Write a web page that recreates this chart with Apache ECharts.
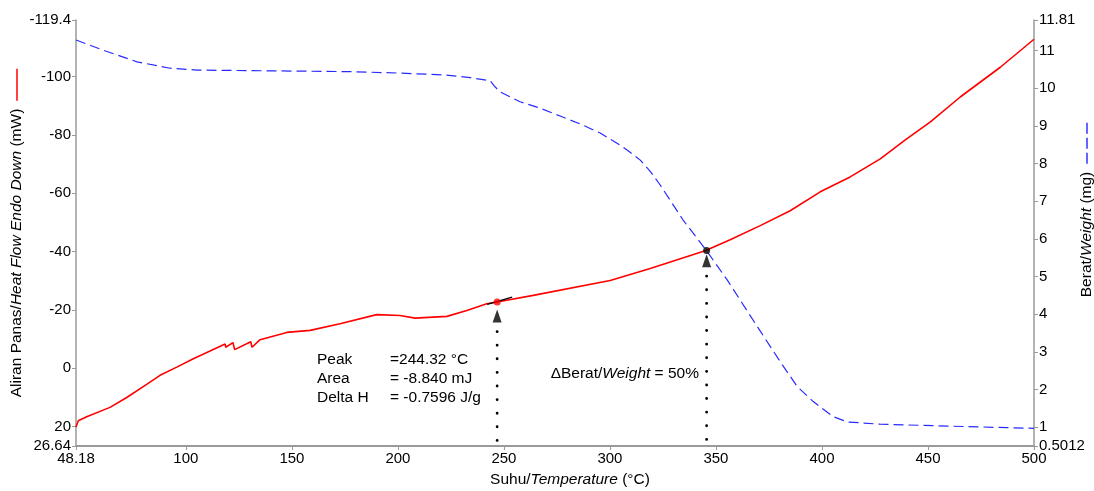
<!DOCTYPE html>
<html><head><meta charset="utf-8">
<script src="https://cdn.jsdelivr.net/npm/echarts@6/dist/echarts.min.js"></script>
<style>html,body{margin:0;padding:0;background:#fff}#c{width:1094px;height:491px}</style>
</head><body><div id="c"></div>
<script>
// Heat flow (mW), left axis (inverted: endo down)
const hfTemp  = [48.18, 49.27, 53.23, 64.22, 72.1, 81.5, 87.8, 95.7, 103.5, 111.4, 118.5, 118.8, 122.2, 123.0, 130.6, 131.2, 135.0, 147.6, 158.6, 172.7, 190.0, 201.0, 208.1, 223.1, 232.5, 241.9, 246.8, 263.8, 300.1, 319.0, 344.9, 356.7, 370.9, 385.0, 399.2, 413.3, 427.5, 439.3, 451.0, 465.2, 484.1, 500];
const hfValue = [20.1, 18.0, 16.6, 13.4, 10.0, 5.5, 2.4, -0.4, -3.3, -5.9, -8.3, -7.2, -8.8, -6.4, -9.1, -7.2, -9.8, -12.3, -13.0, -15.3, -18.4, -18.1, -17.2, -17.8, -19.8, -22.1, -22.7, -25.0, -30.1, -34.2, -40.3, -44.1, -48.9, -54.0, -60.5, -65.6, -71.8, -78.3, -84.4, -93.0, -103.2, -112.8];
// Weight (mg), right axis
const wTemp  = [48.18, 60.92, 76.96, 92.5, 105.3, 139.7, 177.4, 201.0, 222.3, 234.1, 243.5, 245.4, 248.2, 257.6, 267.1, 276.5, 286.0, 295.4, 304.8, 309.5, 314.3, 318.9, 323.7, 334.5, 345.4, 355.3, 370.9, 380.3, 388.3, 395.9, 405.3, 411.9, 427.5, 459.1, 500];
const wValue = [11.28, 11.01, 10.70, 10.53, 10.48, 10.46, 10.44, 10.40, 10.35, 10.28, 10.20, 10.06, 9.90, 9.64, 9.47, 9.26, 9.05, 8.81, 8.49, 8.30, 8.09, 7.80, 7.43, 6.50, 5.70, 4.91, 3.55, 2.74, 2.08, 1.68, 1.28, 1.14, 1.08, 1.03, 0.97];
// Tick labels
const xTicks  = [48.18, 100, 150, 200, 250, 300, 350, 400, 450, 500];
const hfTicks = [-119.4, -100, -80, -60, -40, -20, 0, 20, 26.64];
const wTicks  = [0.5012, 1, 2, 3, 4, 5, 6, 7, 8, 9, 10, 11, 11.81];
// Annotations
const peakPoint = [246.8, -22.7];
const peakArrow = [246.8, -17.9];
const peakDrop  = [[246.8, -12.6], [246.8, 26.64]];
const peakBase  = [[242.1, -21.9], [253.9, -24.4]];
const halfPoint = [345.6, -40.4];
const halfArrow = [345.6, -36.9];
const halfDrop  = [[345.6, -31.6], [345.6, 26.64]];

const FF = '"Liberation Sans", Arial, sans-serif';
const axisGray = '#9a9a9a';
const chart = echarts.init(document.getElementById('c'), null, {renderer: 'canvas'});

const NS = 15.5;
const nameRich = {
  n: {fontSize: NS, fontFamily: FF, color: '#000'},
  i: {fontSize: NS, fontFamily: FF, color: '#000', fontStyle: 'italic'},
  sp: {width: 8, height: 2},
  red: {width: 32, height: 1.5, backgroundColor: '#ff0000'},
  bd: {width: 11, height: 1.5, backgroundColor: '#3030ff'},
  bg: {width: 4, height: 1.5},
  pad: {width: 46, height: 2},
  padx: {width: 30, height: 2}
};
const tickLabel = {fontSize: 15, fontFamily: FF, color: '#000', margin: 5, formatter: v => String(v)};

chart.setOption({
  animation: false,
  backgroundColor: '#fff',
  grid: {left: 76, right: 60, top: 20, bottom: 45, outerBoundsMode: 'none', containLabel: false},
  xAxis: {
    type: 'value', min: 48.18, max: 500,
    name: '{padx|}{n|Suhu/}{i|Temperature}{n| (°C)}',
    nameLocation: 'middle', nameGap: 26, nameMoveOverlap: false,
    nameTextStyle: {rich: nameRich},
    axisLine: {show: true, onZero: false, lineStyle: {color: axisGray, width: 2}},
    axisTick: {show: true, customValues: xTicks, length: 4, lineStyle: {color: axisGray}},
    axisLabel: Object.assign({customValues: xTicks}, tickLabel),
    splitLine: {show: false}
  },
  yAxis: [{
    type: 'value', inverse: true, min: -119.4, max: 26.64, position: 'left',
    name: '{n|Aliran Panas/}{i|Heat Flow Endo Down}{n| (mW)}{sp|}{red|}',
    nameLocation: 'middle', nameRotate: 90, nameGap: 51, nameMoveOverlap: false,
    nameTextStyle: {rich: nameRich},
    axisLine: {show: true, onZero: false, lineStyle: {color: axisGray, width: 1.5}},
    axisTick: {show: true, customValues: hfTicks, length: 4, lineStyle: {color: axisGray}},
    axisLabel: Object.assign({customValues: hfTicks}, tickLabel),
    splitLine: {show: false}
  }, {
    type: 'value', min: 0.5012, max: 11.81, position: 'right',
    name: '{pad|}{n|Berat/}{i|Weight}{n| (mg)}{sp|}{bd|}{bg|}{bd|}{bg|}{bd|}',
    nameLocation: 'middle', nameRotate: 90, nameGap: 45, nameMoveOverlap: false,
    nameTextStyle: {rich: nameRich},
    axisLine: {show: true, onZero: false, lineStyle: {color: axisGray, width: 1.5}},
    axisTick: {show: true, customValues: wTicks, length: 4, lineStyle: {color: axisGray}},
    axisLabel: Object.assign({customValues: wTicks}, tickLabel),
    splitLine: {show: false}
  }],
  series: [{
    type: 'line', yAxisIndex: 1, showSymbol: false, z: 2, smooth: false,
    data: wTemp.map((t, i) => [t, wValue[i]]),
    lineStyle: {color: '#2a2aff', width: 1.2, type: [10, 5]}
  }, {
    type: 'line', yAxisIndex: 0, showSymbol: false, z: 3, smooth: false,
    data: hfTemp.map((t, i) => [t, hfValue[i]]),
    lineStyle: {color: '#ff0000', width: 1.6}
  }, {
    type: 'line', yAxisIndex: 0, showSymbol: false, z: 4,
    data: peakBase, lineStyle: {color: '#000', width: 1.3}
  }, {
    type: 'line', yAxisIndex: 0, showSymbol: false, z: 4,
    data: peakDrop, lineStyle: {color: '#000', width: 2.8, type: [0.1, 13.5], cap: 'round'}
  }, {
    type: 'line', yAxisIndex: 0, showSymbol: false, z: 4,
    data: halfDrop, lineStyle: {color: '#000', width: 2.8, type: [0.1, 13.5], cap: 'round'}
  }, {
    type: 'scatter', yAxisIndex: 0, z: 5, symbol: 'triangle', symbolSize: [9, 13],
    data: [peakArrow, halfArrow], itemStyle: {color: '#000'}
  }, {
    type: 'scatter', yAxisIndex: 0, z: 6, symbol: 'circle', symbolSize: 7,
    data: [peakPoint], itemStyle: {color: '#ff0000'}
  }, {
    type: 'scatter', yAxisIndex: 0, z: 6, symbol: 'circle', symbolSize: 7,
    data: [halfPoint], itemStyle: {color: '#000'}
  }],
  graphic: [{
    type: 'text', left: 317, top: 352, z: 10,
    style: {
      text: '{a|Peak}{b|=244.32 °C}\n{a|Area}{b|= -8.840 mJ}\n{a|Delta H}{b|= -0.7596 J/g}',
      fill: '#000', font: NS + 'px ' + FF,
      rich: {
        a: {width: 73, fontSize: NS, fontFamily: FF, fill: '#000', lineHeight: 19},
        b: {fontSize: NS, fontFamily: FF, fill: '#000', lineHeight: 19}
      }
    }
  }, {
    type: 'text', right: 395, top: 366, z: 10,
    style: {
      text: '{n|ΔBerat/}{i|Weight}{n| = 50%}',
      fill: '#000', font: NS + 'px ' + FF,
      rich: {
        n: {fontSize: NS, fontFamily: FF, fill: '#000'},
        i: {fontSize: NS, fontFamily: FF, fill: '#000', fontStyle: 'italic'}
      }
    }
  }]
});
</script>
</body></html>
